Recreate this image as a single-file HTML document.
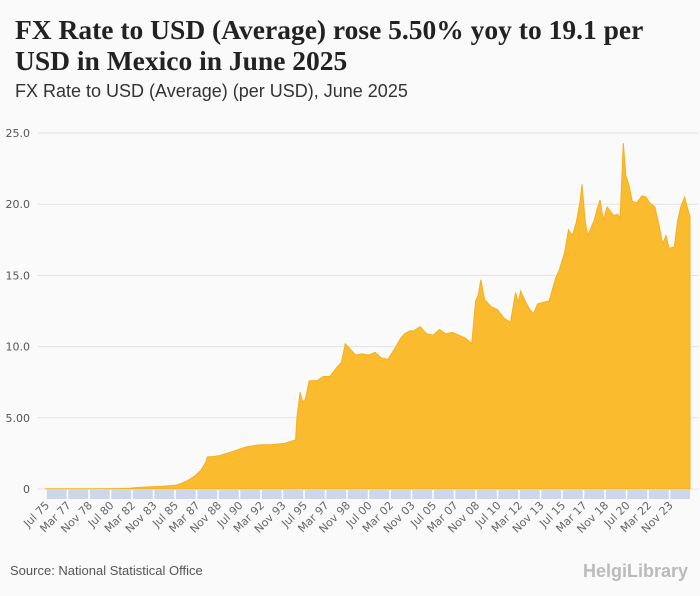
<!DOCTYPE html>
<html><head><meta charset="utf-8"><style>
body{margin:0;background:#fafafa;width:700px;height:596px;overflow:hidden;font-family:"Liberation Sans",sans-serif}
#title{position:absolute;left:15px;top:14px;font:bold 27.5px/31px "Liberation Serif",serif;color:#222;margin:0;width:665px}
#sub{position:absolute;left:15px;top:81px;font-size:18px;color:#333}
#src{position:absolute;left:10px;top:563px;font-size:13px;color:#555}
#logo{position:absolute;right:12px;top:561px;font-size:18px;color:#bbb;font-weight:bold}
</style></head><body>
<h1 id="title">FX Rate to USD (Average) rose 5.50% yoy to 19.1 per USD in Mexico in June 2025</h1>
<div id="sub">FX Rate to USD (Average) (per USD), June 2025</div>
<svg id="chart" width="700" height="596" style="position:absolute;left:0;top:0"></svg>
<div id="src">Source: National Statistical Office</div>
<div id="logo">HelgiLibrary</div>
<script>
const dates=[1975.5,1977,1979,1981,1982,1982.5,1983.5,1984.5,1985.5,1986,1986.5,1987,1987.5,1987.9,1988,1988.5,1989,1989.5,1990,1990.5,1991,1992,1993,1994,1994.85,1994.95,1995.2,1995.4,1995.6,1995.9,1996.5,1997,1997.5,1998,1998.4,1998.7,1999,1999.5,2000,2000.5,2001,2001.5,2002,2002.5,2003,2003.3,2003.7,2004,2004.5,2005,2005.5,2006,2006.5,2007,2007.5,2008,2008.5,2008.8,2009.0,2009.2,2009.5,2010,2010.5,2011,2011.5,2011.9,2012.1,2012.3,2012.7,2013,2013.3,2013.6,2014,2014.5,2015,2015.3,2015.7,2016,2016.3,2016.6,2016.9,2017.05,2017.3,2017.5,2018,2018.2,2018.45,2018.7,2019,2019.5,2019.8,2020.0,2020.25,2020.45,2020.7,2020.95,2021.3,2021.7,2022,2022.3,2022.7,2023,2023.3,2023.55,2023.8,2024.2,2024.45,2024.7,2025,2025.2,2025.42];
const values=[0.0125,0.02,0.023,0.025,0.05,0.1,0.15,0.19,0.26,0.4,0.6,0.9,1.3,1.9,2.25,2.28,2.35,2.5,2.65,2.8,2.95,3.1,3.12,3.2,3.45,5.0,6.8,6.1,6.3,7.6,7.6,7.9,7.9,8.5,8.9,10.2,9.9,9.4,9.5,9.4,9.6,9.2,9.1,9.8,10.6,10.9,11.1,11.1,11.4,10.9,10.8,11.2,10.9,11.0,10.8,10.6,10.2,13.2,13.6,14.7,13.3,12.8,12.6,12.0,11.7,13.8,13.1,13.9,13.1,12.6,12.3,13.0,13.1,13.2,14.8,15.4,16.6,18.2,17.8,18.7,20.2,21.4,18.8,17.8,18.9,19.6,20.3,18.9,19.8,19.2,19.3,19.0,24.3,22.0,21.3,20.2,20.1,20.6,20.5,20.1,19.8,18.6,17.2,17.8,16.9,17.0,18.8,19.8,20.5,19.8,19.1];
const yTicks=[0,5,10,15,20,25];
const yLabels=["0","5.00","10.0","15.0","20.0","25.0"];
const xLabels=["Jul 75","Mar 77","Nov 78","Jul 80","Mar 82","Nov 83","Jul 85","Mar 87","Nov 88","Jul 90","Mar 92","Nov 93","Jul 95","Mar 97","Nov 98","Jul 00","Mar 02","Nov 03","Jul 05","Mar 07","Nov 08","Jul 10","Mar 12","Nov 13","Jul 15","Mar 17","Nov 18","Jul 20","Mar 22","Nov 23"];
const svg=document.getElementById('chart'),NS="http://www.w3.org/2000/svg";
const x0=46,x1=690,y0=489,yTop=133,t0=1975.5,t1=2025.42;
const xs=t=>x0+(t-t0)/(t1-t0)*(x1-x0);
const ys=v=>y0-v/25*(y0-yTop);
function mk(tag,a){const e=document.createElementNS(NS,tag);for(const k in a)e.setAttribute(k,a[k]);svg.appendChild(e);return e;}
yTicks.forEach((v,i)=>{
 const g=mk('line',{x1:x0-8,x2:x1+8,y1:ys(v),y2:ys(v),stroke:'#e2e2e2','stroke-width':1});
 
 
 const t=mk('text',{x:30,y:ys(v)+4,'text-anchor':'end','font-size':11,fill:'#555','font-family':'DejaVu Sans,sans-serif'});
 t.textContent=yLabels[i];
 
 
});
let d='M'+xs(dates[0])+','+y0;
dates.forEach((t,i)=>{d+=' L'+xs(t).toFixed(1)+','+ys(values[i]).toFixed(1);});
d+=' L'+xs(dates[dates.length-1])+','+y0+' Z';
const area=mk('path',{d:d,fill:'#fabb2e',stroke:'#f5b01e','stroke-width':1});


const band=mk('rect',{x:x0,y:490,width:x1-x0,height:9,fill:'#cdd7ea'});


xLabels.forEach((l,i)=>{
 const t=t0+i*20/12, x=xs(t);
 const tk=mk('line',{x1:x,x2:x,y1:490,y2:499,stroke:'#fff','stroke-width':1.5});
 
 
 const tx=mk('text',{x:x+4,y:506,'text-anchor':'end','font-size':11,fill:'#666','font-family':'DejaVu Sans,sans-serif',transform:`rotate(-45 ${x+4} 506)`});
 tx.textContent=l;
 
 
});
</script>
</body></html>
